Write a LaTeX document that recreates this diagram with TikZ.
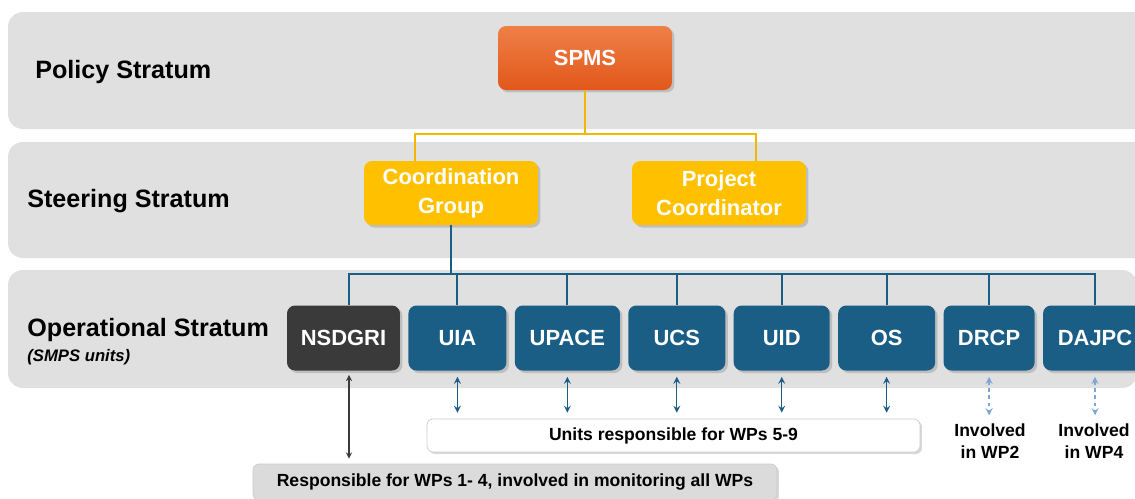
\documentclass[tikz,border=0pt]{standalone}
\usepackage{fontspec}
\setmainfont{Liberation Sans}
\usetikzlibrary{positioning}
\usetikzlibrary{shadows}
\definecolor{bandgray}{HTML}{E0E0E0}
\definecolor{spmstop}{HTML}{EE8048}
\definecolor{spmsbot}{HTML}{E2571A}
\definecolor{steeryellow}{HTML}{FFC000}
\definecolor{lineyellow}{HTML}{F2B700}
\definecolor{unitblue}{HTML}{1B5E85}
\definecolor{darkunit}{HTML}{3A3A3A}
\definecolor{lightblue}{HTML}{7EA6D2}
\definecolor{respgray}{HTML}{DBDBDB}
\tikzstyle{stratum}=[fill=bandgray, rounded corners=0.3cm]
\tikzstyle{stlabel}=[anchor=west, inner sep=0pt,
  font=\fontsize{14.3}{17}\selectfont\bfseries]
\tikzstyle{box}=[rectangle, rounded corners=0.16cm, inner sep=0.5ex,
  text=white, align=center, font=\fontsize{12.5}{16.5}\selectfont\bfseries,
  drop shadow={opacity=0.35, shadow xshift=0.05cm, shadow yshift=-0.05cm}]
\tikzstyle{ybox}=[box, fill=steeryellow, minimum width=3.48cm,
  minimum height=1.28cm]
\tikzstyle{unit}=[box, fill=unitblue, minimum height=1.3cm]
\tikzstyle{note}=[rectangle, rounded corners=0.12cm, draw=black!20,
  font=\fontsize{10}{12.5}\selectfont\bfseries,
  drop shadow={opacity=0.3, shadow xshift=0.04cm, shadow yshift=-0.04cm}]
\tikzstyle{yline}=[draw=lineyellow, line width=1.4pt]
\tikzstyle{busline}=[draw=unitblue, line width=1.1pt]
\tikzstyle{arrblue}=[<->, >=stealth, draw=unitblue, line width=0.75pt,
  shorten <=0.12cm, shorten >=0.12cm]
\tikzstyle{arrdash}=[<->, >=stealth, draw=lightblue, line width=0.8pt,
  dash pattern=on 2pt off 2pt, shorten <=0.12cm, shorten >=0.16cm]
\tikzstyle{arrgray}=[<->, >=stealth, draw=darkunit, line width=0.6pt,
  shorten <=0.08cm, shorten >=0.1cm]

\begin{document}
\begin{tikzpicture}[x=0.02cm, y=-0.02cm]
\clip (0,0) rectangle (1135,498);

% strata
\fill[stratum] (8,12) rectangle (1165,129);
\fill[stratum] (8,142) rectangle (1165,258);
\fill[stratum] (8,270) rectangle (1137,388);

\node[stlabel] (policy) at (35,72) {Policy Stratum};
\node[stlabel] (steering) at (27,201) {Steering Stratum};
\node[stlabel] (operational) at (27,330) {Operational Stratum};
\node[anchor=west, inner sep=0pt, font=\fontsize{9.5}{11}\selectfont\bfseries\itshape]
  (smps) at (27,357) {(SMPS units)};

% policy and steering
\node[box, top color=spmstop, bottom color=spmsbot, minimum width=3.48cm,
  minimum height=1.28cm] (spms) at (585,58) {SPMS};
\node[ybox] (coordgroup) at (451,193) {Coordination\\Group};
\node[ybox] (projcoord) at (719,193) {Project\\Coordinator};

\coordinate (ybus) at (585,134);
\draw[yline] (spms.south) -- (ybus);
\draw[yline] ([xshift=-0.72cm]coordgroup.north) |- (ybus);
\draw[yline] ([xshift=0.74cm]projcoord.north) |- (ybus);

% operational units
\node[box, fill=darkunit, minimum width=2.26cm, minimum height=1.3cm]
  (nsdgri) at (343.5,338) {NSDGRI};
\node[unit, minimum width=1.96cm, right=0.155cm of nsdgri] (uia) {UIA};
\node[unit, minimum width=2.1cm, right=0.155cm of uia] (upace) {UPACE};
\node[unit, minimum width=1.94cm, right=0.155cm of upace] (ucs) {UCS};
\node[unit, minimum width=1.92cm, right=0.155cm of ucs] (uid) {UID};
\node[unit, minimum width=1.94cm, right=0.155cm of uid] (os) {OS};
\node[unit, minimum width=1.82cm, right=0.155cm of os] (drcp) {DRCP};
\node[unit, minimum width=2.08cm, right=0.155cm of drcp] (dajpc) {DAJPC};

\coordinate (bus) at (451,274);
\draw[busline] (coordgroup.south) -- (bus);
\draw[busline] ([xshift=0.11cm]nsdgri.north) |- (bus);
\foreach \u in {uia,upace,ucs,uid,os,drcp,dajpc}
  \draw[busline] (\u.north) |- (bus);

% responsibilities
\node[note, fill=white, minimum width=9.86cm, minimum height=0.66cm]
  (wps59) at (673.5,435.5) {Units responsible for WPs 5-9};
\node[note, fill=respgray, minimum width=10.48cm, minimum height=0.72cm]
  (wps14) at (515,482) {Responsible for WPs 1- 4, involved in monitoring all WPs};
\node[align=center, inner sep=0pt, font=\fontsize{10}{12.5}\selectfont\bfseries]
  (wp2) at (990,441) {Involved\\in WP2};
\node[align=center, inner sep=0pt, font=\fontsize{10}{12.5}\selectfont\bfseries]
  (wp4) at (1094,441) {Involved\\in WP4};

\draw[arrgray] ([xshift=0.11cm]nsdgri.south) -- ([xshift=0.11cm]nsdgri.south |- wps14.north);
\foreach \u in {uia,upace,ucs,uid,os}
  \draw[arrblue] (\u.south) -- (\u.south |- wps59.north);
\draw[arrdash] (drcp.south) -- (drcp.south |- wp2.north);
\draw[arrdash] (dajpc.south) -- (dajpc.south |- wp4.north);

\end{tikzpicture}
\end{document}
